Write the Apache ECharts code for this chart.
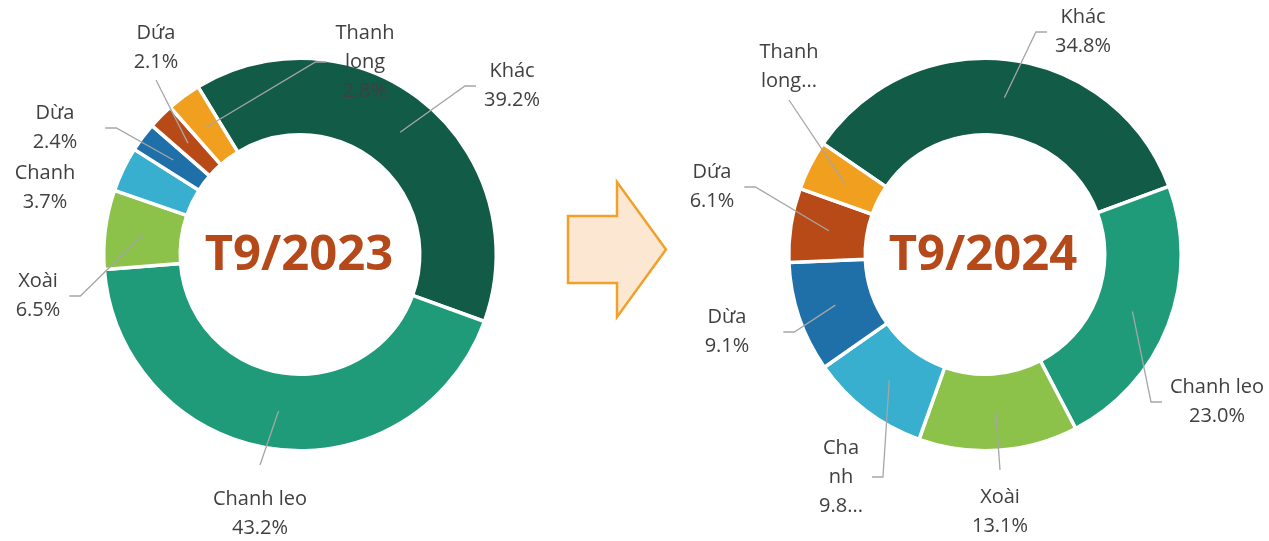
<!DOCTYPE html>
<html>
<head>
<meta charset="utf-8">
<script src="https://cdn.jsdelivr.net/npm/echarts@6/dist/echarts.min.js"></script>
<style>
html, body { margin: 0; padding: 0; background: #fff; }
#chart { width: 1269px; height: 541px; }
</style>
</head>
<body>
<div id="chart"></div>
<script>
var categories = ['Khác', 'Chanh leo', 'Xoài', 'Chanh', 'Dừa', 'Dứa', 'Thanh long'];
var share2023 = [39.2, 43.2, 6.5, 3.7, 2.4, 2.1, 2.8];
var share2024 = [34.8, 23.0, 13.1, 9.8, 9.1, 6.1, 4.1];
var colors = ['#125b47', '#1f9b79', '#8cc24a', '#38afcf', '#1f6fa8', '#b84a18', '#f19f1f'];

// where each label sits: centre x, centre y, side the leader line leaves from, gap
var labelPos2023 = [
    [512, 86, 'left', 8], [260, 514, 'top', 20], [38, 296, 'right', 9], [45, 188, null, 0],
    [55, 128, 'right', 28], [156, 48, 'bottom', 3], [365, 62, 'left', 9]
];
var labelPos2024 = [
    [1083, 32, 'left', 8], [1217, 402, 'left', 8], [1000, 512, 'top', 13], [841, 477, 'right', 9],
    [727, 332, 'right', 34], [712, 187, 'right', 10], [789, 67, 'bottom', 4]
];

var cy = 254.5;
var innerR = 121.5, outerR = 194.5, midR = 158;

function makeLayout(values, startAngle, pos, cx) {
    var total = values.reduce(function (a, b) { return a + b; }, 0);
    return function (params) {
        var i = params.dataIndex;
        var before = 0;
        for (var j = 0; j < i; j++) before += values[j];
        var theta = (90 - startAngle + 360 * (before + values[i] / 2) / total) * Math.PI / 180;
        var ax = cx + midR * Math.sin(theta), ay = cy - midR * Math.cos(theta);
        var p = pos[i];
        var w = params.labelRect.width, h = params.labelRect.height;
        var pts, e;
        if (p[2] === 'left') {
            e = p[0] - w / 2 - p[3];
            pts = [[ax, ay], [e - 11, p[1]], [e, p[1]]];
        } else if (p[2] === 'right') {
            e = p[0] + w / 2 + p[3];
            pts = [[ax, ay], [e + 11, p[1]], [e, p[1]]];
        } else if (p[2] === 'top') {
            e = p[1] - h / 2 - p[3];
            pts = [[ax, ay], [p[0], e], [p[0], e]];
        } else if (p[2] === 'bottom') {
            e = p[1] + h / 2 + p[3];
            pts = [[ax, ay], [p[0], e], [p[0], e]];
        } else {
            pts = [[ax, ay], [ax, ay], [ax, ay]];
        }
        return { x: p[0], y: p[1], align: 'center', verticalAlign: 'middle', labelLinePoints: pts };
    };
}

function text2023(p) {
    var name = p.name === 'Thanh long' ? 'Thanh\nlong' : p.name;
    return name + '\n' + p.value.toFixed(1) + '%';
}

function text2024(p) {
    if (p.name === 'Thanh long') return 'Thanh\nlong...';
    if (p.name === 'Chanh') return 'Cha\nnh\n' + p.value.toFixed(1) + '...';
    return p.name + '\n' + p.value.toFixed(1) + '%';
}

function toData(values) {
    return categories.map(function (c, i) { return { name: c, value: values[i] }; });
}

// the coloured ring
function ringSeries(values, cx, startAngle) {
    return {
        type: 'pie',
        z: 2,
        center: [cx, cy],
        radius: [innerR - 1.75, outerR + 1.75],
        startAngle: startAngle,
        silent: true,
        itemStyle: { borderColor: '#fff', borderWidth: 3.5 },
        label: { show: false },
        labelLine: { show: false },
        data: toData(values)
    };
}

// same ring, invisible, drawn on top so that leader lines run into the slices
function labelSeries(values, cx, startAngle, pos, fmt) {
    return {
        type: 'pie',
        z: 5,
        center: [cx, cy],
        radius: [innerR - 1.75, outerR + 1.75],
        startAngle: startAngle,
        avoidLabelOverlap: false,
        silent: true,
        itemStyle: { color: 'rgba(0,0,0,0)', borderWidth: 0 },
        label: {
            show: true,
            position: 'outside',
            color: '#404040',
            fontFamily: 'Open Sans',
            fontSize: 20,
            lineHeight: 29,
            formatter: fmt
        },
        labelLine: { show: true, lineStyle: { color: '#a6a6a6', width: 1.3 } },
        labelLayout: makeLayout(values, startAngle, pos, cx),
        data: toData(values)
    };
}

var option = {
    animation: false,
    color: colors,
    graphic: [
        {
            type: 'text', x: 299, y: 256.5,
            style: { text: 'T9/2023', fill: '#b5491a', font: 'bold 49px "Open Sans"', align: 'center', verticalAlign: 'middle' }
        },
        {
            type: 'text', x: 983, y: 256.5,
            style: { text: 'T9/2024', fill: '#b5491a', font: 'bold 49px "Open Sans"', align: 'center', verticalAlign: 'middle' }
        },
        {
            type: 'polygon',
            shape: { points: [[568, 216], [617, 216], [617, 182], [666, 249.5], [617, 317], [617, 283], [568, 283]] },
            style: { fill: '#fce8d2', stroke: '#f1a02a', lineWidth: 2.5 }
        }
    ],
    series: [
        ringSeries(share2023, 300, 121.3),
        ringSeries(share2024, 985, 145.6),
        labelSeries(share2023, 300, 121.3, labelPos2023, text2023),
        labelSeries(share2024, 985, 145.6, labelPos2024, text2024)
    ]
};

var chart = echarts.init(document.getElementById('chart'));
chart.setOption(option);
</script>
</body>
</html>
